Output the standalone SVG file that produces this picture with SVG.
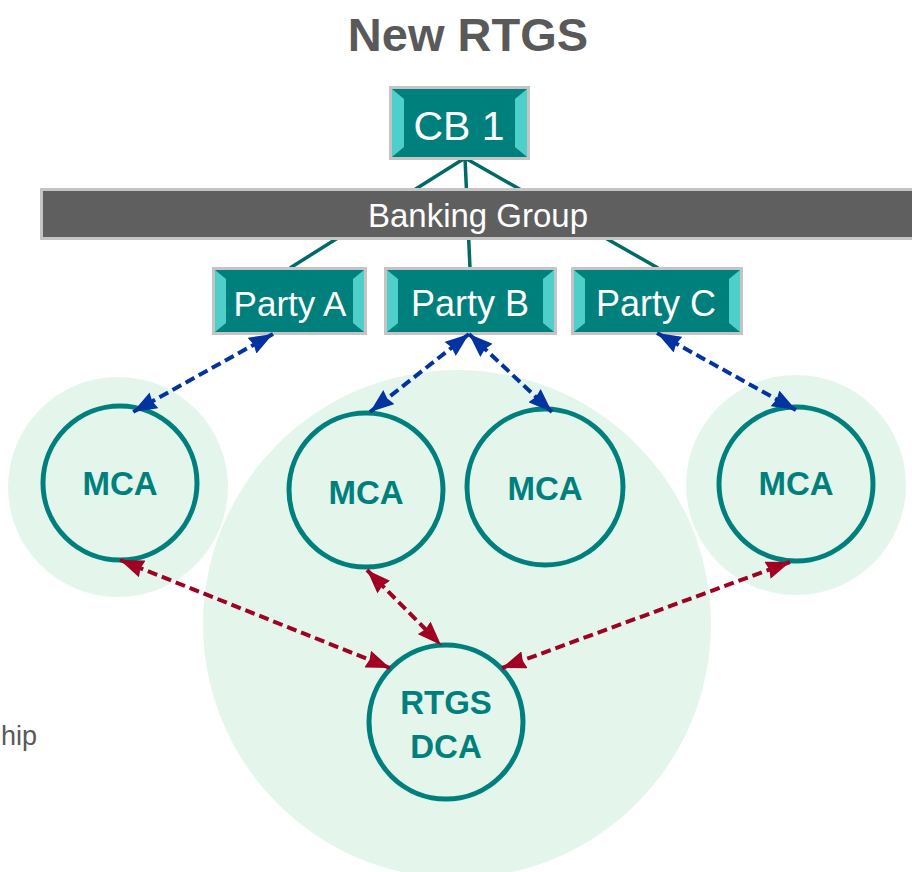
<svg xmlns="http://www.w3.org/2000/svg" width="912" height="872" viewBox="0 0 912 872">
<defs>
<style>
.bg{fill:#e4f6ec}
.acc{fill:none;stroke:#00807c;stroke-width:5}
.lbl{font-family:"Liberation Sans",Arial,sans-serif;font-weight:bold;font-size:33px;fill:#00807c;text-anchor:middle}
.btxt{font-family:"Liberation Sans",Arial,sans-serif;fill:#ffffff;text-anchor:middle}
.frame{fill:#c4c4c4}
.face{fill:#00807c}
.side{fill:#4fcfca}
.tree{stroke:#006b66;stroke-width:3.5;fill:none}
.blue{stroke:#0233a0;stroke-width:4;stroke-dasharray:10 5;fill:none;marker-start:url(#hb);marker-end:url(#hb)}
.red{stroke:#a00022;stroke-width:4;stroke-dasharray:10 5;fill:none;marker-start:url(#hr);marker-end:url(#hr)}
</style>
<marker id="hb" viewBox="0 0 24 18" refX="24" refY="9" markerWidth="24" markerHeight="18" markerUnits="userSpaceOnUse" orient="auto-start-reverse"><path d="M0,0 L24,9 L0,18 L2,9 Z" fill="#0233a0"/></marker>
<marker id="hr" viewBox="0 0 24 18" refX="24" refY="9" markerWidth="24" markerHeight="18" markerUnits="userSpaceOnUse" orient="auto-start-reverse"><path d="M0,0 L24,9 L0,18 L2,9 Z" fill="#a00022"/></marker>
</defs>
<rect width="912" height="872" fill="#ffffff"/>

<g id="backgrounds">
<circle class="bg" cx="118" cy="487" r="110"/>
<circle class="bg" cx="457" cy="624" r="254"/>
<circle class="bg" cx="796" cy="485" r="110"/>
</g>

<text x="468" y="51" font-family="Liberation Sans,Arial,sans-serif" font-weight="bold" font-size="47" fill="#595959" text-anchor="middle">New RTGS</text>
<text x="37" y="745" font-family="Liberation Sans,Arial,sans-serif" font-size="27" fill="#595959" text-anchor="end">hip</text>

<g id="tree-lines">
<path class="tree" d="M465,158 L290,268 M465,158 L470,268 M465,158 L658,268"/>
</g>

<g id="banking-group">
<rect x="40" y="188" width="880" height="52" fill="#c4c4c4"/>
<rect x="43" y="191" width="874" height="46" fill="#5f5f5f"/>
<text class="btxt" x="478" y="227" font-size="33">Banking Group</text>
</g>

<g id="cb1">
<rect class="frame" x="389" y="86" width="141" height="74"/>
<rect class="face" x="392" y="89" width="135" height="68"/>
<polygon class="side" points="392,89 404,99 404,147 392,157"/>
<polygon class="side" points="527,89 515,99 515,147 527,157"/>
<text class="btxt" x="459" y="140" font-size="41">CB 1</text>
</g>

<g id="party-a">
<rect class="frame" x="212" y="267" width="155" height="68"/>
<rect class="face" x="215" y="270" width="149" height="62"/>
<polygon class="side" points="215,270 226,279 226,323 215,332"/>
<polygon class="side" points="364,270 353,279 353,323 364,332"/>
<text class="btxt" x="290" y="316" font-size="35">Party A</text>
</g>

<g id="party-b">
<rect class="frame" x="384" y="267" width="173" height="68"/>
<rect class="face" x="387" y="270" width="167" height="62"/>
<polygon class="side" points="387,270 398,279 398,323 387,332"/>
<polygon class="side" points="554,270 543,279 543,323 554,332"/>
<text class="btxt" x="470" y="316" font-size="36">Party B</text>
</g>

<g id="party-c">
<rect class="frame" x="571" y="267" width="172" height="68"/>
<rect class="face" x="574" y="270" width="166" height="62"/>
<polygon class="side" points="574,270 585,279 585,323 574,332"/>
<polygon class="side" points="740,270 729,279 729,323 740,332"/>
<text class="btxt" x="656" y="316" font-size="36">Party C</text>
</g>

<g id="mca-1">
<circle class="acc" cx="120" cy="483" r="77"/>
<text class="lbl" x="120" y="495">MCA</text>
</g>
<g id="mca-2">
<circle class="acc" cx="366" cy="490" r="77"/>
<text class="lbl" x="366" y="504">MCA</text>
</g>
<g id="mca-3">
<circle class="acc" cx="545" cy="487" r="78"/>
<text class="lbl" x="545" y="500">MCA</text>
</g>
<g id="mca-4">
<circle class="acc" cx="796" cy="484" r="77"/>
<text class="lbl" x="796" y="495">MCA</text>
</g>
<g id="rtgs-dca">
<circle class="acc" cx="446" cy="722" r="77"/>
<text class="lbl" x="446" y="714">RTGS</text>
<text class="lbl" x="446" y="758">DCA</text>
</g>

<g id="connectors">
<path class="blue" d="M273,334 L133,412"/>
<path class="blue" d="M469,334 L370,412"/>
<path class="blue" d="M469,334 L552,412"/>
<path class="blue" d="M657,333 L796,410"/>
<path class="red" d="M120,560 L390,668"/>
<path class="red" d="M367,570 L441,645"/>
<path class="red" d="M790,562 L502,668"/>
</g>
</svg>
